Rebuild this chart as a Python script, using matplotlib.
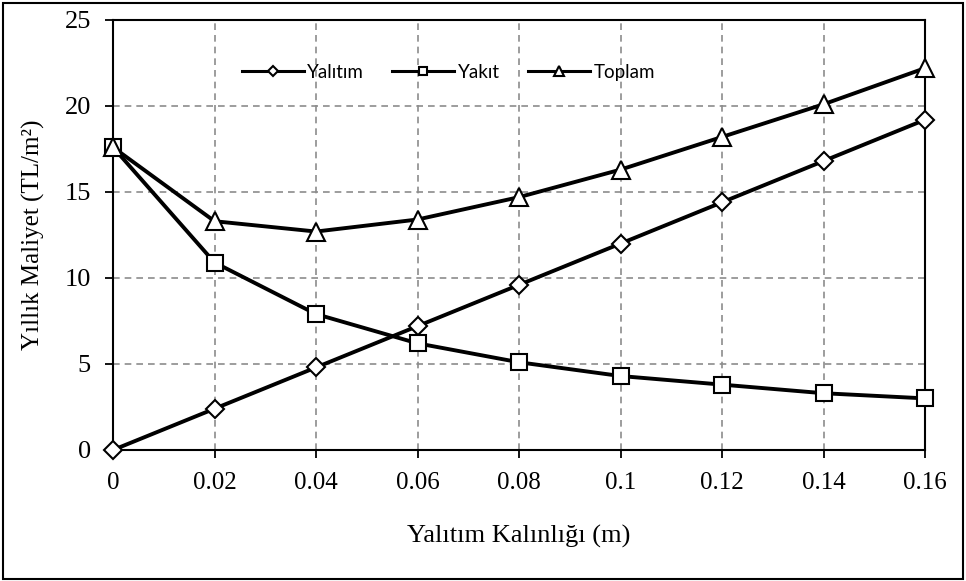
import matplotlib.pyplot as plt
from matplotlib.patches import Rectangle

# insulation thickness (m) and annual costs (TL/m2)
thickness = [0, 0.02, 0.04, 0.06, 0.08, 0.10, 0.12, 0.14, 0.16]
insulation_cost = [0, 2.4, 4.8, 7.2, 9.6, 12.0, 14.4, 16.8, 19.2]
fuel_cost = [17.6, 10.9, 7.9, 6.2, 5.1, 4.3, 3.8, 3.3, 3.0]
total_cost = [17.6, 13.3, 12.7, 13.4, 14.7, 16.3, 18.2, 20.1, 22.2]

x_ticks = [0, 0.02, 0.04, 0.06, 0.08, 0.10, 0.12, 0.14, 0.16]
x_tick_labels = ["0", "0.02", "0.04", "0.06", "0.08", "0.1", "0.12", "0.14", "0.16"]
y_ticks = [0, 5, 10, 15, 20, 25]

serif = "Liberation Serif"

figure = plt.figure(figsize=(9.66, 5.81), dpi=100)
axes = figure.add_axes([0.117, 0.2255, 0.8406, 0.7401])

series = [
    (insulation_cost, "D", 9, "Yalıtım"),
    (fuel_cost, "s", 11, "Yakıt"),
    (total_cost, "^", 13, "Toplam"),
]
for values, marker, size, label in series:
    axes.plot(
        thickness,
        values,
        color="black",
        linewidth=2.8,
        marker=marker,
        markersize=size,
        markerfacecolor="white",
        markeredgecolor="black",
        markeredgewidth=1.5,
        label=label,
        clip_on=False,
        zorder=3,
    )

axes.set_xlim(0, 0.16)
axes.set_ylim(0, 25)
axes.set_xticks(x_ticks)
axes.set_xticklabels(x_tick_labels)
axes.set_yticks(y_ticks)

axes.grid(True, color="#8c8c8c", linestyle=(0, (4, 3)), linewidth=1.2)
axes.set_axisbelow(True)
for spine in axes.spines.values():
    spine.set_linewidth(1.5)
    spine.set_color("black")

axes.tick_params(direction="out", length=6, width=1.3)
axes.tick_params(axis="x", pad=10)
axes.tick_params(axis="y", pad=10)
for tick in axes.get_xticklabels():
    tick.set_fontfamily(serif)
    tick.set_fontsize(18)
for tick in axes.get_yticklabels():
    tick.set_fontfamily(serif)
    tick.set_fontsize(19)

axes.set_xlabel("Yalıtım Kalınlığı (m)", fontfamily=serif, fontsize=19, labelpad=22)
axes.set_ylabel("Yıllık Maliyet (TL/m²)", fontfamily=serif, fontsize=18, labelpad=14)

legend = axes.legend(
    loc="center",
    bbox_to_anchor=(0.413, 0.879),
    ncol=3,
    frameon=False,
    prop={"family": "Lato", "size": 13.5},
    handlelength=3.3,
    columnspacing=1.5,
    handletextpad=0.2,
    markerscale=0.55,
)
for handle in legend.legend_handles:
    handle.set_linewidth(2.2)

# thin border around the whole figure
figure.patches.append(
    Rectangle(
        (0.003, 0.004),
        0.994,
        0.991,
        transform=figure.transFigure,
        fill=False,
        edgecolor="black",
        linewidth=1.5,
    )
)

figure.savefig("out.png", dpi=100)
